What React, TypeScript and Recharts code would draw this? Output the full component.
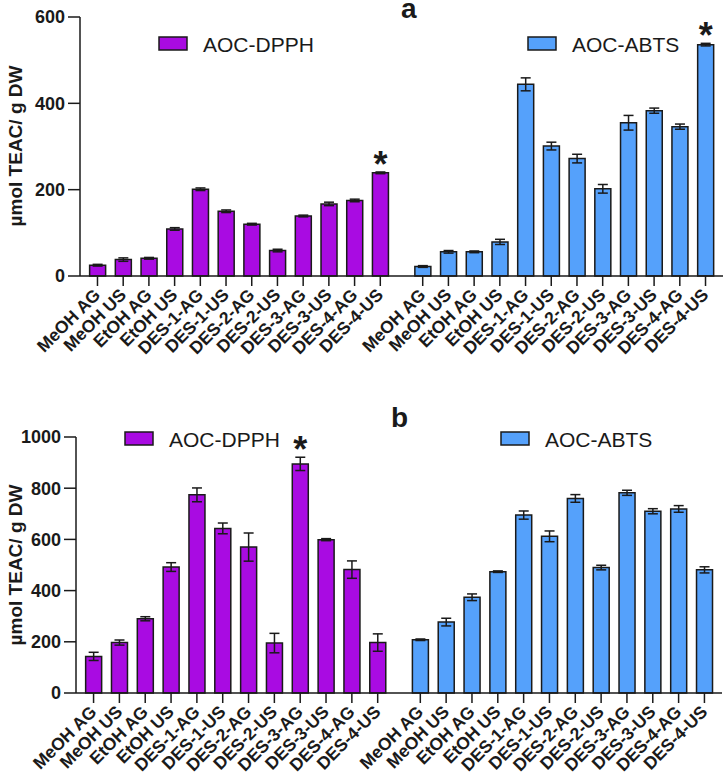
import React from 'react';
import { BarChart, Bar, XAxis, YAxis, ErrorBar, Cell, LabelList, Legend } from 'recharts';

const categories = [
  'MeOH AG', 'MeOH US', 'EtOH AG', 'EtOH US', 'DES-1-AG', 'DES-1-US',
  'DES-2-AG', 'DES-2-US', 'DES-3-AG', 'DES-3-US', 'DES-4-AG', 'DES-4-US',
];

// Panel a
const aDpph = [25, 38, 41, 109, 201, 150, 120, 59, 139, 167, 175, 239];
const aDpphErr = [2, 4, 2, 3, 3, 3, 2, 3, 2, 4, 3, 2];
const aAbts = [22, 56, 56, 79, 444, 301, 272, 202, 355, 383, 346, 536];
const aAbtsErr = [2, 3, 2, 6, 15, 9, 10, 10, 17, 6, 6, 3];
const aTicks = [0, 200, 400, 600];

// Panel b
const bDpph = [143, 197, 290, 492, 774, 643, 570, 195, 895, 599, 482, 197];
const bDpphErr = [16, 10, 8, 17, 27, 21, 55, 38, 26, 4, 34, 34];
const bAbts = [208, 277, 374, 474, 695, 612, 760, 490, 782, 710, 719, 481];
const bAbtsErr = [3, 15, 13, 3, 16, 21, 15, 9, 10, 10, 13, 12];
const bTicks = [0, 200, 400, 600, 800, 1000];

const seriesNames = ['AOC-DPPH', 'AOC-ABTS'];
const yLabel = 'µmol TEAC/ g DW';

const GAP_START = 12.65;
const X_DOMAIN: [number, number] = [-0.68, 24.33];
const PURPLE = '#A90BE2';
const BLUE = '#55A1FB';
const INK = '#1a1a1a';
const FONT = '"Liberation Sans", Arial, sans-serif';

type Row = { x: number; label: string; v: number; err: number; group: number; star: boolean };

function buildRows(d: number[], de: number[], a: number[], ae: number[], dStar: number, aStar: number): Row[] {
  const rows: Row[] = [];
  categories.forEach((c, i) => rows.push({ x: i, label: c, v: d[i], err: de[i], group: 0, star: i === dStar }));
  categories.forEach((c, i) => rows.push({ x: GAP_START + i, label: c, v: a[i], err: ae[i], group: 1, star: i === aStar }));
  return rows;
}

const rowsA = buildRows(aDpph, aDpphErr, aAbts, aAbtsErr, 11, 11);
const rowsB = buildRows(bDpph, bDpphErr, bAbts, bAbtsErr, 8, -1);

const makeXTick = (rows: Row[]) => (props: any) => {
  const { x, y, payload } = props;
  const r = rows.find((row) => Math.abs(row.x - payload.value) < 1e-6);
  return (
    <g transform={`translate(${x + 4},${y + 10})`}>
      <text x={0} y={0} textAnchor="end" transform="rotate(-45)" fontFamily={FONT} fontWeight="bold" fontSize={17.5} fill={INK}>
        {r ? r.label : ''}
      </text>
    </g>
  );
};

const makeStar = (rows: Row[]) => (p: any) => {
  const r = rows[p.index];
  if (!r || !r.star) return null;
  const vb = p.viewBox || p;
  const x = vb.x ?? p.x;
  const y = vb.y ?? p.y;
  const w = vb.width ?? p.width;
  const h = vb.height ?? p.height;
  const pxPerUnit = Math.abs(h) / r.v;
  const topY = y - r.err * pxPerUnit;
  return (
    <text x={x + w / 2} y={topY + 5} textAnchor="middle" fontFamily={FONT} fontWeight="bold" fontSize={36} fill={INK}>
      *
    </text>
  );
};

type LegendSpec = {
  letter: string; letterX: number; letterY: number;
  items: { sx: number; sy: number; color: string; name: string }[];
};

const makeLegend = (spec: LegendSpec) => () => (
  <div style={{ position: 'relative', width: 0, height: 0 }}>
    <svg width={724} height={80} style={{ position: 'absolute', left: 0, top: 0, overflow: 'visible' }}>
      <text x={spec.letterX} y={spec.letterY} fontFamily={FONT} fontWeight="bold" fontSize={28} fill={INK}>{spec.letter}</text>
      {spec.items.map((it) => (
        <g key={it.name}>
          <rect x={it.sx} y={it.sy} width={28} height={13} fill={it.color} stroke={INK} strokeWidth={1.5} />
          <text x={it.sx + 44} y={it.sy + 14.5} fontFamily={FONT} fontSize={21} fill={INK}>{it.name}</text>
        </g>
      ))}
    </svg>
  </div>
);

const YLabel = (centerY: number) => (props: any) => (
  <text
    x={15}
    y={centerY}
    transform={`rotate(-90, 15, ${centerY})`}
    textAnchor="middle"
    dominantBaseline="central"
    fontFamily={FONT}
    fontWeight="bold"
    fontSize={19}
    fill={INK}
  >
    {yLabel}
  </text>
);

function Panel(props: {
  rows: Row[]; height: number; margin: any; yWidth: number; xHeight: number;
  yDomain: [number, number]; yTicks: number[]; legend: LegendSpec; yCenter: number;
}) {
  const { rows, height, margin, yWidth, xHeight, yDomain, yTicks, legend, yCenter } = props;
  return (
    <BarChart width={724} height={height} data={rows} margin={margin}>
      <XAxis
        dataKey="x"
        type="number"
        domain={X_DOMAIN}
        ticks={rows.map((r) => r.x)}
        interval={0}
        height={xHeight}
        tick={makeXTick(rows)}
        tickSize={10}
        tickMargin={0}
        stroke={INK}
        strokeWidth={1.5}
        allowDataOverflow
      />
      <YAxis
        type="number"
        domain={yDomain}
        ticks={yTicks}
        interval={0}
        width={yWidth}
        tickSize={12}
        tickMargin={3}
        stroke={INK}
        strokeWidth={1.5}
        tick={{ fontFamily: FONT, fontWeight: 'bold', fontSize: 18, fill: INK }}
        label={YLabel(yCenter)}
      />
      <Legend content={makeLegend(legend)} wrapperStyle={{ left: 0, top: 0, width: 0, height: 0 }} />
      <Bar dataKey="v" barSize={16} stroke={INK} strokeWidth={1.5} isAnimationActive={false} legendType="rect">
        {rows.map((r, i) => (
          <Cell key={i} fill={r.group === 0 ? PURPLE : BLUE} />
        ))}
        <ErrorBar dataKey="err" width={5} stroke={INK} strokeWidth={1.5} direction="y" />
        <LabelList dataKey="v" content={makeStar(rows)} />
      </Bar>
    </BarChart>
  );
}

export default function App() {
  return (
    <div style={{ position: 'absolute', left: 0, top: 0, width: 724, height: 778, background: '#fff' }}>
      <Panel
        rows={rowsA}
        height={390}
        margin={{ top: 17, right: 1, left: 0, bottom: 0 }}
        yWidth={80}
        xHeight={114}
        yDomain={[0, 600]}
        yTicks={aTicks}
        yCenter={146}
        legend={{
          letter: 'a', letterX: 401, letterY: 18,
          items: [
            { sx: 159, sy: 37, color: PURPLE, name: seriesNames[0] },
            { sx: 528, sy: 37, color: BLUE, name: seriesNames[1] },
          ],
        }}
      />
      <div style={{ position: 'absolute', left: 0, top: 390 }}>
        <Panel
          rows={rowsB}
          height={388}
          margin={{ top: 47, right: 2, left: 0, bottom: 0 }}
          yWidth={76}
          xHeight={85}
          yDomain={[0, 1000]}
          yTicks={bTicks}
          yCenter={175}
          legend={{
            letter: 'b', letterX: 391, letterY: 37,
            items: [
              { sx: 125, sy: 42, color: PURPLE, name: seriesNames[0] },
              { sx: 501, sy: 42, color: BLUE, name: seriesNames[1] },
            ],
          }}
        />
      </div>
    </div>
  );
}
